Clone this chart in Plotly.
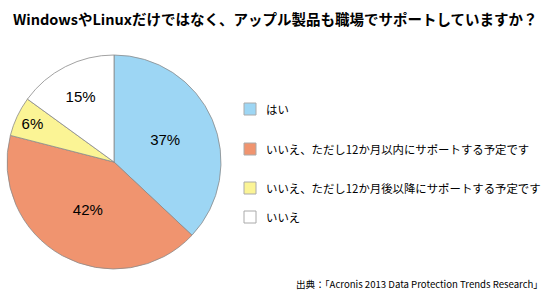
import plotly.graph_objects as go

categories = ["はい", "いいえ、ただし12か月以内にサポートする予定です",
              "いいえ、ただし12か月後以降にサポートする予定です", "いいえ"]
values = [37, 42, 6, 15]
colors = ["#9DD6F4", "#F0946F", "#FBF495", "#FFFFFF"]
title = "WindowsやLinuxだけではなく、アップル製品も職場でサポートしていますか？"
source = "出典：「Acronis 2013 Data Protection Trends Research」"

W, H = 550, 300
font = "Noto Sans CJK JP"

fig = go.Figure(go.Pie(
    labels=categories, values=values, sort=False, direction="clockwise",
    rotation=0, marker=dict(colors=colors, line=dict(color="#8a8a8a", width=0.8)),
    texttemplate="%{value}%", textposition="inside", insidetextorientation="horizontal",
    textfont=dict(color="black", size=15, family="Liberation Sans, Arial"),
    domain=dict(x=[7 / W, 221 / W], y=[1 - 269 / H, 1 - 55 / H]),
    showlegend=False, hoverinfo="skip",
))

legend_y = [109, 149, 188, 217]
shapes, annotations = [], []
for cat, col, y in zip(categories, colors, legend_y):
    shapes.append(dict(type="rect", xref="paper", yref="paper",
                       x0=244 / W, x1=256 / W, y0=1 - (y + 6) / H, y1=1 - (y - 6) / H,
                       fillcolor=col, line=dict(color="#aaaaaa", width=1)))
    annotations.append(dict(text=cat, xref="paper", yref="paper", x=264 / W, y=1 - y / H,
                            xanchor="left", yanchor="middle", showarrow=False,
                            font=dict(size=11.4, color="black", family=font)))

annotations.append(dict(text="<b>" + title + "</b>", xref="paper", yref="paper",
                        x=275 / W, y=1 - 18 / H, xanchor="center", yanchor="middle",
                        showarrow=False, font=dict(size=14.5, color="black", family=font)))
annotations.append(dict(text=source, xref="paper", yref="paper", x=545 / W, y=1 - 284 / H,
                        xanchor="right", yanchor="middle", showarrow=False,
                        font=dict(size=9.6, color="black", family=font)))

fig.update_layout(width=W, height=H, margin=dict(l=0, r=0, t=0, b=0),
                  paper_bgcolor="white", plot_bgcolor="white",
                  shapes=shapes, annotations=annotations)
fig.write_html("out.html")
